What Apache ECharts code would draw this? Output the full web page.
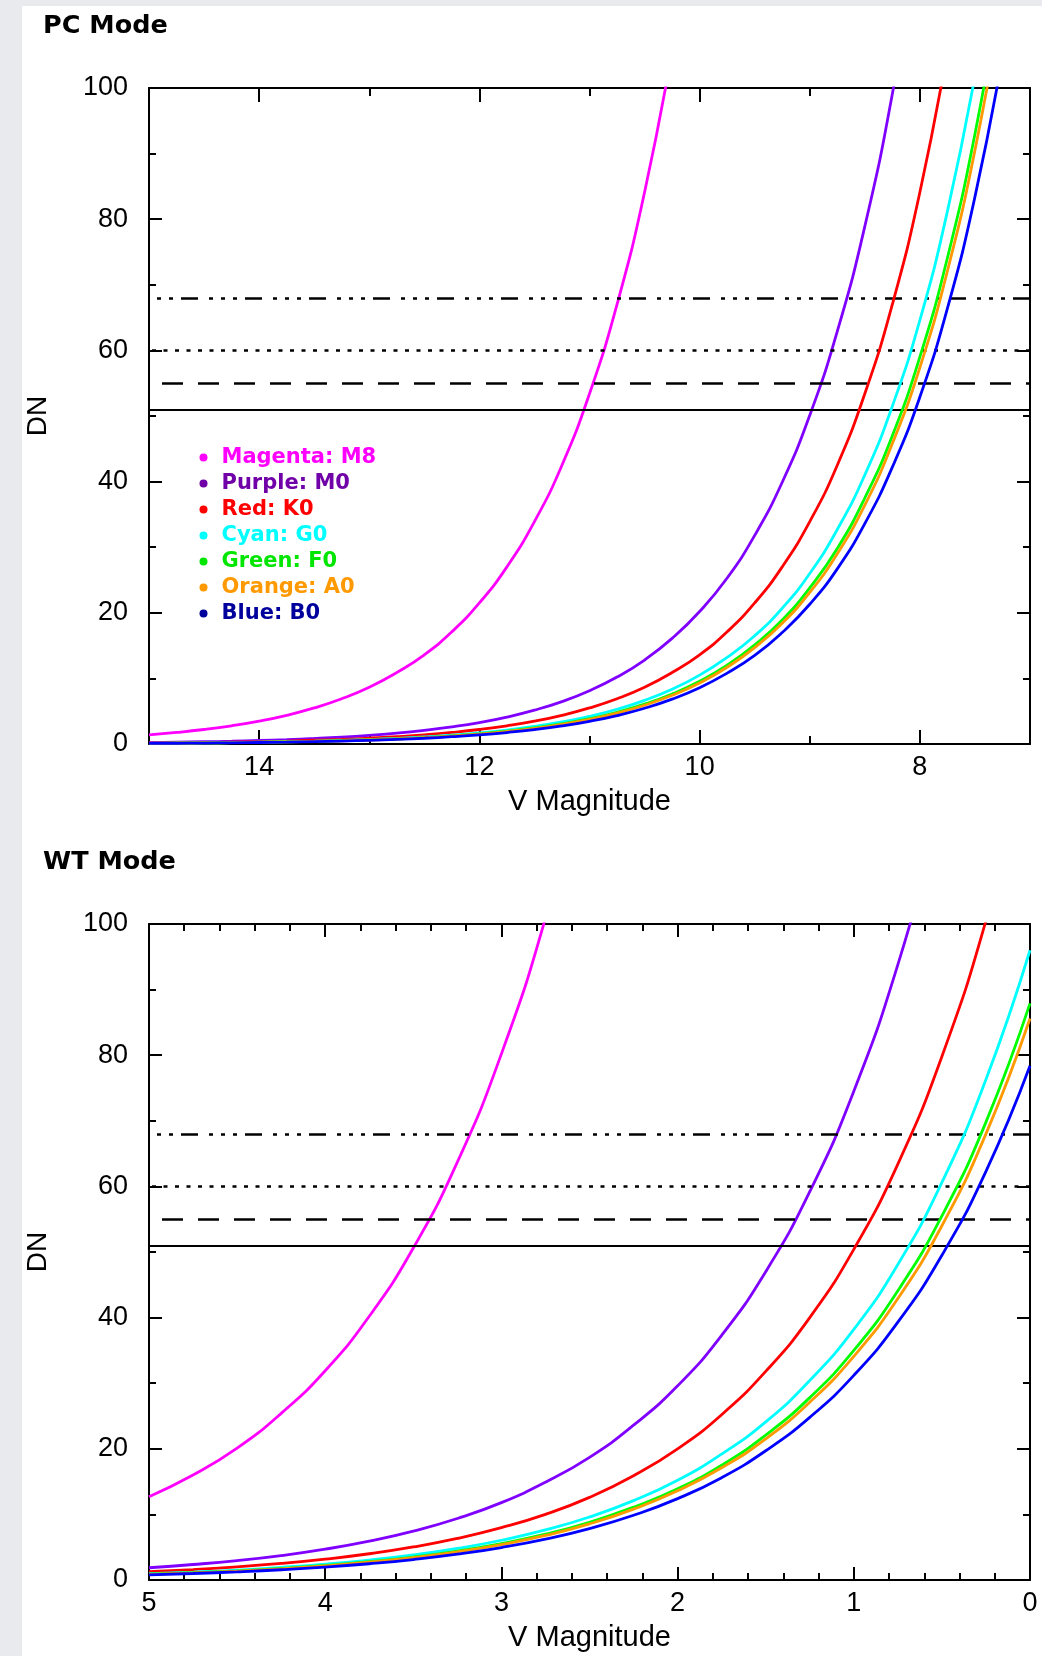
<!DOCTYPE html>
<html>
<head>
<meta charset="utf-8">
<title>DN vs V Magnitude</title>
<script src="https://cdn.jsdelivr.net/npm/echarts@6/dist/echarts.min.js"></script>
<style>
  html, body { margin: 0; padding: 0; background: #e8eaed; }
  #chart { width: 1042px; height: 1656px; }
</style>
</head>
<body>
<div id="chart"></div>
<script>
// ---- PC mode: V magnitude samples (15 -> 7) and DN per spectral type ----
const pcMag = [15, 14.75, 14.5, 14.25, 14, 13.75, 13.5, 13.25, 13, 12.75, 12.5, 12.25, 12, 11.75, 11.5, 11.25,
  11, 10.75, 10.5, 10.25, 10, 9.75, 9.5, 9.25, 9, 8.75, 8.5, 8.25, 8, 7.75, 7.5, 7.25, 7];
const pcMagenta = [1.40, 1.76, 2.21, 2.78, 3.49, 4.38, 5.50, 6.90, 8.66, 10.9, 13.6, 17.1, 21.5, 27.0, 33.9, 42.5,
  53.4, 67.0, 84.1, 105.6, null, null, null, null, null, null, null, null, null, null, null, null, null];
const pcPurple = [0.21, 0.27, 0.34, 0.42, 0.53, 0.67, 0.84, 1.05, 1.32, 1.65, 2.08, 2.61, 3.27, 4.11, 5.16, 6.47,
  8.12, 10.2, 12.8, 16.1, 20.2, 25.3, 31.8, 39.9, 50.1, 62.9, 78.9, 99.1, 124.4, null, null, null, null];
const pcRed = [0.14, 0.18, 0.23, 0.29, 0.36, 0.45, 0.57, 0.71, 0.89, 1.12, 1.40, 1.76, 2.21, 2.78, 3.49, 4.38,
  5.50, 6.90, 8.66, 10.9, 13.6, 17.1, 21.5, 27.0, 33.9, 42.5, 53.4, 67.0, 84.1, 105.6, null, null, null];
const pcCyan = [0.11, 0.14, 0.17, 0.22, 0.28, 0.35, 0.43, 0.55, 0.68, 0.86, 1.08, 1.35, 1.70, 2.13, 2.68, 3.36,
  4.22, 5.30, 6.65, 8.35, 10.5, 13.2, 16.5, 20.7, 26.0, 32.7, 41.0, 51.5, 64.6, 81.2, 101.8, null, null];
const pcGreen = [0.10, 0.13, 0.16, 0.20, 0.25, 0.32, 0.40, 0.50, 0.63, 0.78, 0.98, 1.24, 1.55, 1.95, 2.45, 3.07,
  3.85, 4.84, 6.07, 7.62, 9.57, 12.0, 15.1, 18.9, 23.8, 29.8, 37.5, 47.0, 59.0, 74.1, 93.0, 116.7, null];
const pcOrange = [0.10, 0.12, 0.16, 0.20, 0.24, 0.31, 0.39, 0.48, 0.61, 0.76, 0.96, 1.20, 1.51, 1.90, 2.38, 2.99,
  3.75, 4.71, 5.91, 7.42, 9.31, 11.7, 14.7, 18.4, 23.1, 29.0, 36.4, 45.8, 57.4, 72.1, 90.5, 113.6, null];
const pcBlue = [0.09, 0.11, 0.14, 0.18, 0.23, 0.28, 0.36, 0.45, 0.56, 0.70, 0.88, 1.11, 1.39, 1.75, 2.19, 2.75,
  3.46, 4.34, 5.45, 6.84, 8.58, 10.8, 13.5, 17.0, 21.3, 26.7, 33.6, 42.2, 52.9, 66.4, 83.4, 104.7, null];

// ---- WT mode: V magnitude samples (5 -> 0) and DN per spectral type ----
const wtMag = [5, 4.75, 4.5, 4.25, 4, 3.75, 3.5, 3.25, 3, 2.75, 2.5, 2.25, 2, 1.75, 1.5, 1.25, 1, 0.75, 0.5, 0.25, 0];
const wtMagenta = [12.7, 16.0, 20.1, 25.4, 31.9, 40.2, 50.6, 63.7, 80.2, 100.9, 127.0,
  null, null, null, null, null, null, null, null, null, null];
const wtPurple = [1.87, 2.36, 2.96, 3.73, 4.70, 5.92, 7.45, 9.38, 11.8, 14.9, 18.7, 23.6, 29.6, 37.3, 47.0, 59.2,
  74.5, 93.8, 118.0, null, null];
const wtRed = [1.26, 1.59, 2.00, 2.52, 3.18, 4.00, 5.04, 6.34, 7.98, 10.0, 12.6, 15.9, 20.0, 25.2, 31.8, 40.0,
  50.4, 63.4, 79.8, 100.5, 126.5];
const wtCyan = [0.96, 1.21, 1.52, 1.92, 2.41, 3.04, 3.82, 4.81, 6.06, 7.63, 9.60, 12.1, 15.2, 19.2, 24.1, 30.4,
  38.2, 48.1, 60.6, 76.3, 96.0];
const wtGreen = [0.88, 1.11, 1.39, 1.75, 2.21, 2.78, 3.50, 4.41, 5.55, 6.98, 8.79, 11.1, 13.9, 17.5, 22.1, 27.8,
  35.0, 44.1, 55.5, 69.8, 87.9];
const wtOrange = [0.86, 1.08, 1.36, 1.71, 2.15, 2.71, 3.41, 4.29, 5.40, 6.80, 8.56, 10.8, 13.6, 17.1, 21.5, 27.1,
  34.1, 42.9, 54.0, 68.0, 85.6];
const wtBlue = [0.78, 0.99, 1.24, 1.56, 1.97, 2.48, 3.12, 3.93, 4.95, 6.23, 7.84, 9.87, 12.4, 15.6, 19.7, 24.8,
  31.2, 39.3, 49.5, 62.3, 78.4];

// ---- Series labels and colours ----
const typeNames = ['Magenta: M8', 'Purple: M0', 'Red: K0', 'Cyan: G0', 'Green: F0', 'Orange: A0', 'Blue: B0'];
const lineColors = ['#ff00ff', '#8000ff', '#ff0000', '#00ffff', '#00ff00', '#ff9900', '#0000ff'];
const keyColors = ['#ff00ff', '#7000a8', '#ff0000', '#00ffff', '#00e600', '#ff9900', '#00009c'];

// ---- Horizontal DN thresholds ----
const thresholds = [51, 55, 60, 68];
const thresholdDash = ['solid', [21, 15], [4, 7.5], [17, 8, 4, 8, 4, 8, 4, 11]];

// ---- Axis ticks ----
const pcMajorTicks = [8, 10, 12, 14];
const pcMinorTicks = [9, 11, 13];

const pcCurves = [pcMagenta, pcPurple, pcRed, pcCyan, pcGreen, pcOrange, pcBlue];
const wtCurves = [wtMagenta, wtPurple, wtRed, wtCyan, wtGreen, wtOrange, wtBlue];

const tickFont = 'Liberation Sans, Arial, sans-serif';
const boldFont = 'DejaVu Sans, Verdana, sans-serif';

function pairs(mags, vals) {
  const out = [];
  mags.forEach((m, i) => { if (vals[i] != null) out.push([m, vals[i]]); });
  return out;
}

const frameLine = { show: true, onZero: false, lineStyle: { color: '#000', width: 2 } };
const noLine = { show: false, onZero: false };

function xAxisDef(grid, opt) {
  return Object.assign({
    type: 'value', gridIndex: grid, inverse: true,
    splitLine: { show: false }, minorSplitLine: { show: false },
    axisLine: frameLine,
    axisLabel: { show: false },
    axisTick: { show: false }
  }, opt);
}

function yAxisDef(grid, position, withLabels) {
  return {
    type: 'value', gridIndex: grid, position: position,
    min: 0, max: 100, interval: 20,
    axisLine: frameLine,
    axisTick: { show: true, inside: true, length: 13, lineStyle: { color: '#000', width: 2 } },
    minorTick: { show: true, splitNumber: 2, length: 7, lineStyle: { color: '#000', width: 2 } },
    splitLine: { show: false }, minorSplitLine: { show: false },
    axisLabel: withLabels
      ? { show: true, color: '#000', fontFamily: tickFont, fontSize: 27, margin: 21 }
      : { show: false },
    name: withLabels ? 'DN' : '',
    nameLocation: 'middle', nameGap: 97, nameRotate: 90,
    nameTextStyle: { color: '#000', fontFamily: tickFont, fontSize: 28 }
  };
}

const magName = {
  name: 'V Magnitude', nameLocation: 'middle', nameGap: 43,
  nameTextStyle: { color: '#000', fontFamily: tickFont, fontSize: 29 }
};

const xAxes = [
  // PC mode: labelled majors at even magnitudes, short ticks at odd ones
  xAxisDef(0, Object.assign({
    position: 'bottom', min: 7, max: 15,
    axisTick: { show: true, inside: true, length: 14, customValues: pcMajorTicks, lineStyle: { color: '#000', width: 2 } },
    axisLabel: { show: true, customValues: pcMajorTicks, color: '#000', fontFamily: tickFont, fontSize: 27, margin: 10 }
  }, magName)),
  xAxisDef(0, {
    position: 'bottom', min: 7, max: 15, axisLine: noLine,
    axisTick: { show: true, inside: true, length: 8, customValues: pcMinorTicks, lineStyle: { color: '#000', width: 2 } }
  }),
  xAxisDef(0, {
    position: 'top', min: 7, max: 15,
    axisTick: { show: true, inside: true, length: 14, customValues: pcMajorTicks, lineStyle: { color: '#000', width: 2 } }
  }),
  xAxisDef(0, {
    position: 'top', min: 7, max: 15, axisLine: noLine,
    axisTick: { show: true, inside: true, length: 8, customValues: pcMinorTicks, lineStyle: { color: '#000', width: 2 } }
  }),
  // WT mode: integer majors with four minors between
  xAxisDef(1, Object.assign({
    position: 'bottom', min: 0, max: 5, interval: 1,
    axisTick: { show: true, inside: true, length: 13, lineStyle: { color: '#000', width: 2 } },
    minorTick: { show: true, splitNumber: 5, length: 7, lineStyle: { color: '#000', width: 2 } },
    axisLabel: { show: true, color: '#000', fontFamily: tickFont, fontSize: 27, margin: 10 }
  }, magName)),
  xAxisDef(1, {
    position: 'top', min: 0, max: 5, interval: 1,
    axisTick: { show: true, inside: true, length: 13, lineStyle: { color: '#000', width: 2 } },
    minorTick: { show: true, splitNumber: 5, length: 7, lineStyle: { color: '#000', width: 2 } }
  })
];

const yAxes = [
  yAxisDef(0, 'left', true), yAxisDef(0, 'right', false),
  yAxisDef(1, 'left', true), yAxisDef(1, 'right', false)
];

function thresholdSeries(xIdx, yIdx) {
  return {
    type: 'line', xAxisIndex: xIdx, yAxisIndex: yIdx, data: [], silent: true, z: 1,
    markLine: {
      silent: true, symbol: ['none', 'none'], label: { show: false }, animation: false,
      data: thresholds.map((v, i) => ({
        yAxis: v,
        lineStyle: {
          color: '#000', width: i === 0 ? 2 : 2.6,
          type: thresholdDash[i], dashOffset: i === 1 ? 17 : 0
        }
      }))
    }
  };
}

function curveSeries(mags, curves, xIdx, yIdx) {
  return curves.map((vals, i) => ({
    name: typeNames[i], type: 'line', xAxisIndex: xIdx, yAxisIndex: yIdx,
    data: pairs(mags, vals), showSymbol: false, symbol: 'none',
    smooth: 0.5, clip: true, z: 3 + i,
    lineStyle: { color: lineColors[i], width: 2.8 },
    itemStyle: { color: lineColors[i] }
  }));
}

const chart = echarts.init(document.getElementById('chart'), null, { renderer: 'canvas' });
chart.setOption({
  animation: false,
  backgroundColor: '#e8eaed',
  graphic: [{
    type: 'rect', z: -10, silent: true,
    shape: { x: 22, y: 6, width: 1020, height: 1650 },
    style: { fill: '#ffffff' }
  }],
  title: [
    { text: 'PC Mode', left: 38, top: 8, textStyle: { fontFamily: boldFont, fontWeight: 'bold', fontSize: 25.5, color: '#000' } },
    { text: 'WT Mode', left: 38, top: 844, textStyle: { fontFamily: boldFont, fontWeight: 'bold', fontSize: 25.5, color: '#000' } }
  ],
  grid: [
    { left: 149, top: 88, width: 881, height: 656 },
    { left: 149, top: 924, width: 881, height: 656 }
  ],
  legend: {
    orient: 'vertical', left: 194.5, top: 442, selectedMode: false,
    itemWidth: 8, itemHeight: 8, itemGap: 5,
    textStyle: { fontFamily: boldFont, fontWeight: 'bold', fontSize: 21, lineHeight: 21, padding: [0, 0, 0, 9] },
    data: typeNames.map((n, i) => ({
      name: n, icon: 'circle',
      itemStyle: { color: keyColors[i] },
      textStyle: { color: keyColors[i] }
    }))
  },
  xAxis: xAxes,
  yAxis: yAxes,
  series: [
    thresholdSeries(0, 0),
    thresholdSeries(4, 2),
    ...curveSeries(pcMag, pcCurves, 0, 0),
    ...curveSeries(wtMag, wtCurves, 4, 2)
  ]
});
</script>
</body>
</html>
